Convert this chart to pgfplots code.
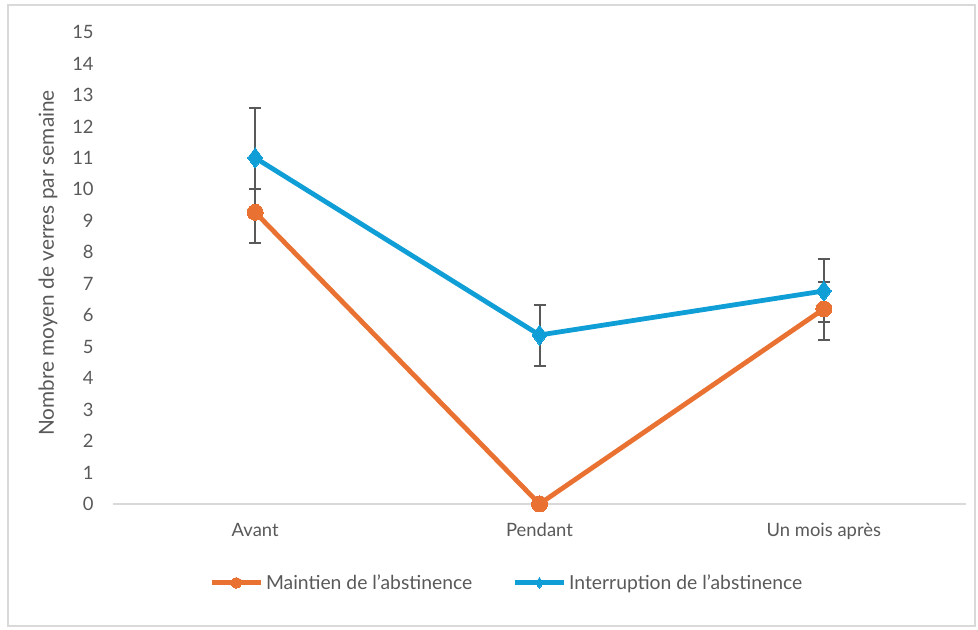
\documentclass[border=0pt]{standalone}
\usepackage{pgfplots}
\pgfplotsset{compat=1.18}
\usepackage{fontspec}
\setmainfont{Lato}
\definecolor{corange}{HTML}{E97132}
\definecolor{cblue}{HTML}{0F9ED5}
\definecolor{ctext}{HTML}{595959}
\definecolor{caxis}{HTML}{D9D9D9}
\begin{document}
\begin{tikzpicture}
\path (0pt,0pt) rectangle (733.5pt,472.5pt);
\draw[caxis,line width=0.8pt] (6pt,3pt) rectangle (731.25pt,468.75pt);
\begin{axis}[
  at={(84.75pt,94.5pt)}, anchor=south west,
  scale only axis, width=639.75pt, height=354pt,
  xmin=-0.5, xmax=2.5, ymin=0, ymax=15,
  axis line style={draw=none},
  axis x line*=bottom,
  xtick={0,1,2}, xticklabels={Avant,Pendant,Un mois après},
  extra x ticks={-0.5,0.5,1.5,2.5}, extra x tick labels={},
  extra x tick style={major tick length=5pt, tick style={caxis, line width=0.8pt}, tick align=outside},
  x tick style={draw=none},
  ytick={0,1,...,15},
  y tick style={draw=none},
  tick label style={font=\fontsize{13.8}{15}\selectfont, text=ctext},
  /pgf/number format/assume math mode=true,
  yticklabel style={xshift=-11pt},
  xticklabel style={yshift=-11pt},
  ylabel={Nombre moyen de verres par semaine},
  every axis y label/.style={at={(axis description cs:0,0.5)}, rotate=90, anchor=center,
    xshift=3.75pt, yshift=48.75pt, font=\fontsize{15.6}{17}\selectfont, text=ctext},
  legend style={at={(rel axis cs:0.462,-0.167)}, anchor=center, draw=none, fill=none,
    legend columns=2, font=\fontsize{14.5}{16}\selectfont, text=ctext,
    /tikz/every even column/.append style={column sep=28pt}},
  legend cell align=left,
  legend image code/.code={
    \draw[#1, mark=none] (0pt,0pt) -- (37pt,0pt);
    \draw[#1, mark size=4pt] plot coordinates {(18.5pt,0pt)};
  },
  clip=false,
]
\draw[caxis, line width=0.8pt] (rel axis cs:0,0) -- (rel axis cs:1,0);
% error bars (behind markers)
\addplot[draw=none, mark=none, forget plot,
  error bars/.cd, y dir=both, y explicit,
  error bar style={ctext, line width=1.5pt},
  error mark options={rotate=90, mark size=4.5pt, ctext, line width=1.5pt}]
  coordinates {(0,9.27) += (0,0.74) -= (0,0.98)
               (2,6.20) += (0,0.84) -= (0,0.99)};
\addplot[draw=none, mark=none, forget plot,
  error bars/.cd, y dir=both, y explicit,
  error bar style={ctext, line width=1.5pt},
  error mark options={rotate=90, mark size=4.5pt, ctext, line width=1.5pt}]
  coordinates {(0,11.0) += (0,1.58) -= (0,1.58)
               (1,5.37) += (0,0.95) -= (0,1.0)
               (2,6.77) += (0,1.02) -= (0,1.0)};
\addplot[corange, line width=3.6pt, mark=*, mark size=6pt, mark options={fill=corange, draw=corange, line width=0pt}]
  coordinates {(0,9.27) (1,0) (2,6.20)};
\addlegendentry{Maintien de l{\char"0027}abstinence}
\addplot[cblue, line width=3.6pt, mark=diamond*, mark size=7.5pt, mark options={fill=cblue, draw=cblue, line width=0pt}]
  coordinates {(0,11.0) (1,5.37) (2,6.77)};
\addlegendentry{Interruption de l’abstinence}
\end{axis}
\end{tikzpicture}
\end{document}
